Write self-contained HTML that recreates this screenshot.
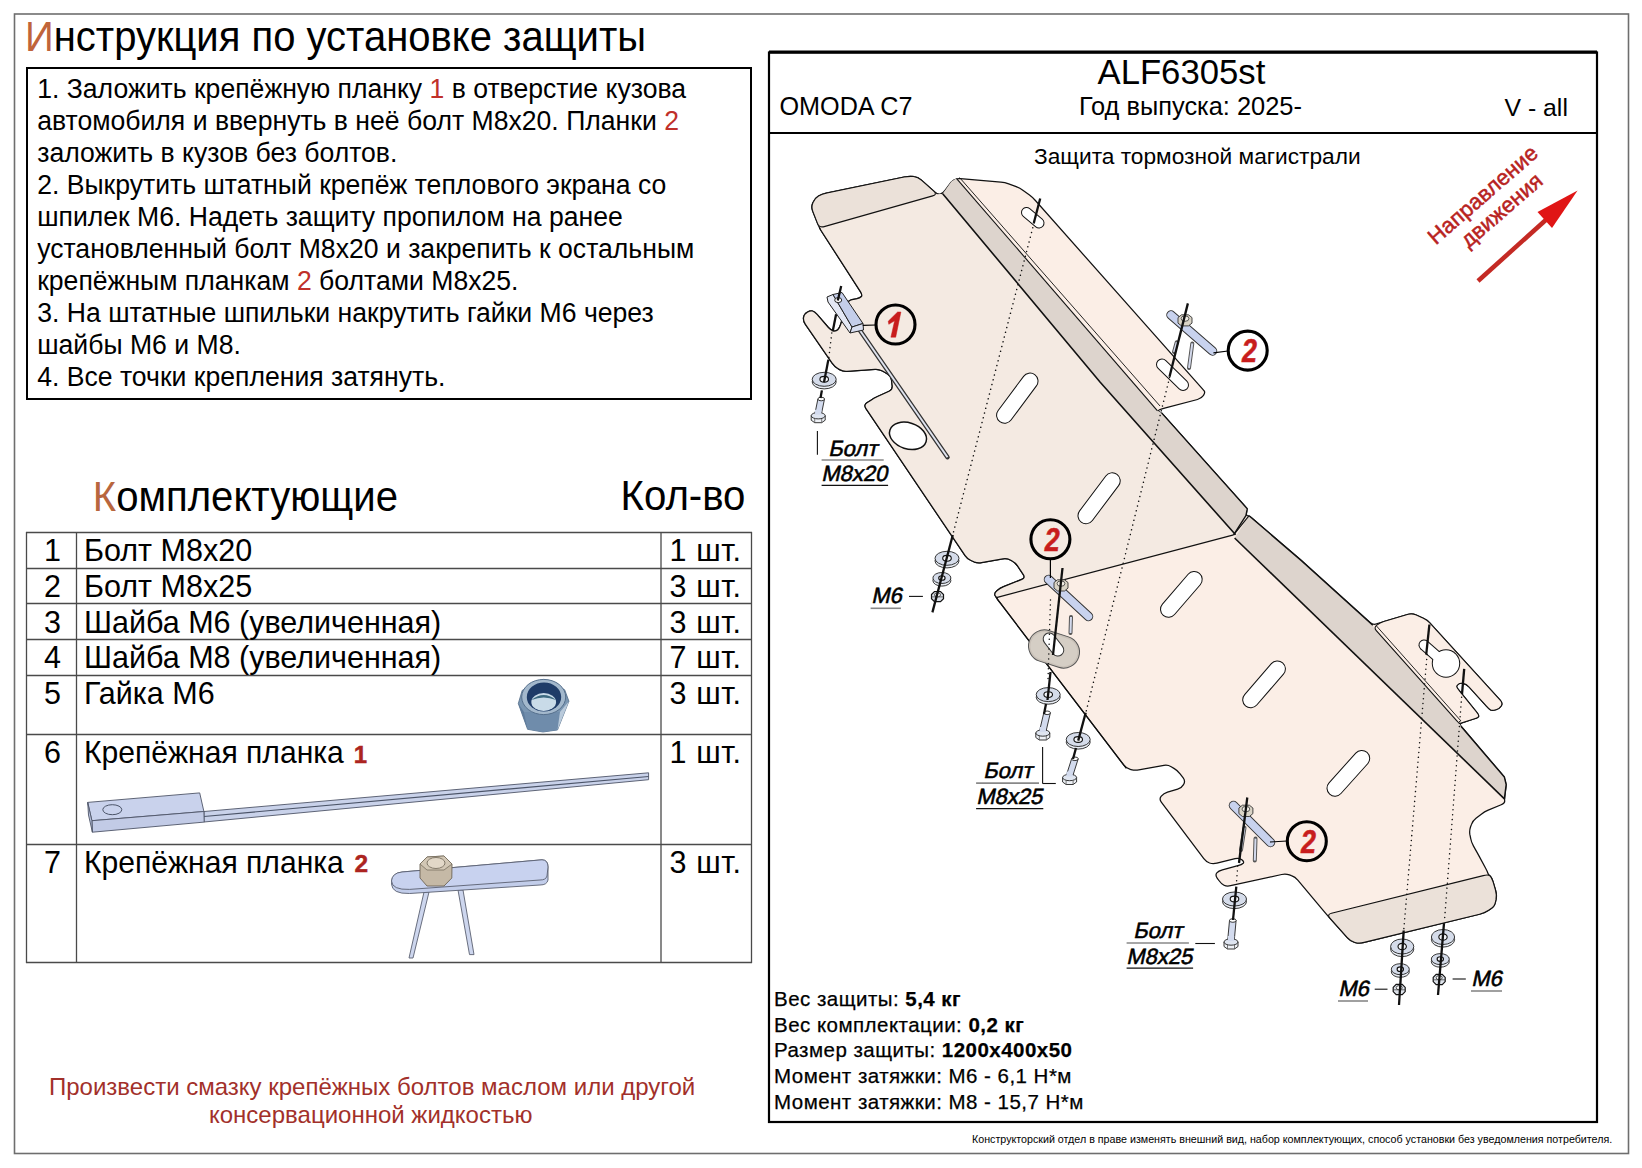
<!DOCTYPE html>
<html><head><meta charset="utf-8"><style>
html,body{margin:0;padding:0;background:#fff;}
body{width:1642px;height:1168px;position:relative;overflow:hidden;font-family:"Liberation Sans",sans-serif;}
.t{position:absolute;white-space:nowrap;line-height:1;}
.b{position:absolute;box-sizing:border-box;}
</style></head><body>
<svg width="1642" height="1168" viewBox="0 0 1642 1168" style="position:absolute;left:0;top:0">
<rect x="14.5" y="14" width="1614" height="1139.5" fill="none" stroke="#6e6e6e" stroke-width="1.6"/>
<rect x="27" y="68" width="724" height="331" fill="none" stroke="#000" stroke-width="2"/>
<rect x="769" y="52.5" width="828" height="1069.5" fill="none" stroke="#000" stroke-width="2.2"/>
<line x1="769" y1="52" x2="1597" y2="52" stroke="#000" stroke-width="3"/>
<line x1="769" y1="133" x2="1597" y2="133" stroke="#000" stroke-width="2"/>
<line x1="26" y1="532.5" x2="752" y2="532.5" stroke="#4a4a4a" stroke-width="1.3"/>
<line x1="26" y1="568.5" x2="752" y2="568.5" stroke="#4a4a4a" stroke-width="1.3"/>
<line x1="26" y1="603.5" x2="752" y2="603.5" stroke="#4a4a4a" stroke-width="1.3"/>
<line x1="26" y1="639.5" x2="752" y2="639.5" stroke="#4a4a4a" stroke-width="1.3"/>
<line x1="26" y1="675.5" x2="752" y2="675.5" stroke="#4a4a4a" stroke-width="1.3"/>
<line x1="26" y1="734.5" x2="752" y2="734.5" stroke="#4a4a4a" stroke-width="1.3"/>
<line x1="26" y1="844.5" x2="752" y2="844.5" stroke="#4a4a4a" stroke-width="1.3"/>
<line x1="26" y1="962.5" x2="752" y2="962.5" stroke="#4a4a4a" stroke-width="1.3"/>
<line x1="26.5" y1="532" x2="26.5" y2="963" stroke="#4a4a4a" stroke-width="1.3"/>
<line x1="76.5" y1="532" x2="76.5" y2="963" stroke="#4a4a4a" stroke-width="1.3"/>
<line x1="661.0" y1="532" x2="661.0" y2="963" stroke="#4a4a4a" stroke-width="1.3"/>
<line x1="751.5" y1="532" x2="751.5" y2="963" stroke="#4a4a4a" stroke-width="1.3"/>
<g>
      <polygon points="518.3,703.5 522.2,690.4 543.7,679.5 564.7,689.8 568.9,701.2 557.5,729.9 543,732 527.6,729.3" fill="#7a96b2" stroke="#4f6985" stroke-width="0.8"/>
      <polygon points="527.6,729.3 524,712 560,712 557.5,729.9 543,732" fill="#6f8cab"/>
      <polygon points="560,712 568.9,701.2 557.5,729.9" fill="#b9cadb"/>
      <polygon points="518.3,703.5 524,712 527.6,729.3" fill="#5f7c9c"/>
      <ellipse cx="543.7" cy="697" rx="22" ry="17.6" fill="#a3b8cc" stroke="#56708d" stroke-width="1"/>
      <ellipse cx="544" cy="697" rx="17.2" ry="14.5" fill="#1f3c68"/>
      <ellipse cx="543.7" cy="702" rx="12.4" ry="9" fill="#c9dbe8"/>
      <path d="M531.5,700 Q543.7,690 556,700 Q543.7,695 531.5,700 Z" fill="#3d6a80"/>
    </g>
<g stroke="#4e5568" stroke-width="0.9">
      <polygon points="204,811.5 648.6,772.8 648.6,779.7 204,822" fill="#c9d2ea"/>
      <line x1="204" y1="816.5" x2="648.6" y2="776.5" stroke="#4b5468" stroke-width="1.2"/>
      <polygon points="87.7,802.4 199.7,792.9 203.9,811.5 91.9,820.7" fill="#c9d2ec"/>
      <polygon points="91.9,820.7 203.9,811.5 204.2,822.1 92.4,832.2" fill="#c2cbe6"/>
      <polygon points="87.7,802.4 91.9,820.7 92.4,832.2 88.5,815" fill="#b8c2de"/>
      <ellipse cx="112.3" cy="809.7" rx="9.5" ry="5" fill="none" stroke="#4b5468" stroke-width="1"/>
    </g>
<g stroke="#5a6070" stroke-width="0.9">
      <polygon points="424,892 429,892 413,958 409,958" fill="#cdd6ee"/>
      <polygon points="458,890 463,890 474,954.6 469.5,954.6" fill="#cdd6ee"/>
      <path d="M402,872 L542,859.8 Q548,860 548,867 L548,880 Q547,885 540,885 L409.6,893.5 Q392,894 391.5,884 L391.5,882 Q392,873 402,872 Z" fill="#c2cdea"/>
      <path d="M402,872 L542,859.8 Q548,860 548,867 L547,876 Q546,880 540,880 L409.6,889.4 Q392,890 391.5,881 Q392,873 402,872 Z" fill="#c8d2ef"/>
      <polygon points="420,864 427,857 444,856 452,864 451.8,878 444,886 427,886 420,878" fill="#c5b9a6" stroke="#6d6455"/>
      <polygon points="420,864 427,857 444,856 452,864 444,870 427,870" fill="#d2c7b5" stroke="#6d6455" stroke-width="0.7"/>
      <ellipse cx="436" cy="863" rx="9" ry="5.5" fill="#e2d8c8" stroke="#6d6455" stroke-width="0.8"/>
    </g>
<line x1="1478" y1="281" x2="1548" y2="218" stroke="#c42a24" stroke-width="4.5"/>
<polygon points="1577.6,190.4 1537.5,212 1552,228" fill="#e01515"/>
<g transform="translate(1435.7,245.5) rotate(-41)"><text x="0" y="0" font-family="Liberation Sans" font-size="22" fill="#b8231f" stroke="#b8231f" stroke-width="0.5">Направление</text></g>
<g transform="translate(1468.6,248.6) rotate(-41)"><text x="0" y="0" font-family="Liberation Sans" font-size="22" fill="#b8231f" stroke="#b8231f" stroke-width="0.5">движения</text></g>
<path d="M812.5,210.7 Q811.0,207.0 812.6,203.3 L813.4,201.7 Q815.0,198.0 818.5,196.0 L818.5,196.0 Q822.0,194.0 825.9,193.2 L905.1,176.8 Q909.0,176.0 913.0,176.4 L914.0,176.6 Q918.0,177.0 921.0,179.7 L934.5,191.8 Q937.5,194.5 940.1,194.1 L940.1,194.1 Q942.7,193.7 945.0,190.4 L948.9,185.0 Q951.2,181.7 953.8,180.0 L953.8,180.0 Q956.4,178.3 960.4,178.6 L1000.9,182.2 Q1004.9,182.5 1008.7,183.9 L1016.2,186.6 Q1020.0,188.0 1023.2,190.4 L1029.5,195.1 Q1032.7,197.5 1035.4,200.5 L1200.0,386.2 Q1202.7,389.2 1204.1,390.8 L1204.1,390.8 Q1205.5,392.3 1203.5,395.4 L1203.5,395.4 Q1201.4,398.5 1197.5,399.5 L1165.5,407.8 Q1161.6,408.8 1159.5,409.8 L1159.5,409.8 Q1157.5,410.8 1159.5,411.9 L1159.5,411.9 Q1161.6,412.9 1164.3,415.9 L1244.6,505.8 Q1247.3,508.8 1246.6,512.2 L1246.6,512.2 Q1245.9,515.6 1247.5,515.7 L1247.5,515.7 Q1249.1,515.7 1252.1,518.3 L1298.7,558.3 Q1301.7,560.9 1304.7,563.6 L1369.8,622.4 Q1372.8,625.1 1376.4,623.9 L1376.4,623.9 Q1380.0,622.6 1383.8,621.5 L1408.2,614.3 Q1412.0,613.2 1415.7,614.8 L1423.4,618.2 Q1427.1,619.8 1429.8,622.8 L1500.2,700.1 Q1502.9,703.1 1501.4,705.8 L1501.4,705.8 Q1499.9,708.5 1496.1,709.7 L1495.9,709.7 Q1492.1,710.9 1490.6,710.0 L1490.6,710.0 Q1489.1,709.1 1486.4,706.1 L1469.1,687.0 Q1466.4,684.0 1463.1,683.4 L1463.1,683.4 Q1459.8,682.8 1458.2,684.3 L1458.2,684.3 Q1456.5,685.8 1456.7,686.7 L1456.7,686.7 Q1456.8,687.6 1459.3,690.7 L1476.5,712.0 Q1479.0,715.1 1478.7,716.3 L1478.7,716.3 Q1478.4,717.5 1474.6,718.7 L1463.6,722.3 Q1459.8,723.5 1460.4,724.9 L1460.4,724.9 Q1461.0,726.2 1463.6,729.2 L1501.8,774.1 Q1504.4,777.1 1505.3,780.9 L1505.3,780.9 Q1506.2,784.7 1505.7,788.7 L1504.9,794.8 Q1504.4,798.8 1504.7,801.0 L1504.7,801.0 Q1504.9,803.1 1501.2,804.7 L1488.2,810.2 Q1484.5,811.8 1481.3,814.2 L1476.0,818.2 Q1472.8,820.6 1471.5,824.4 L1470.5,827.0 Q1469.2,830.8 1469.9,834.7 L1470.7,838.5 Q1471.4,842.4 1473.4,845.9 L1475.2,849.1 Q1477.2,852.6 1479.1,856.1 L1485.5,868.0 Q1487.4,871.5 1487.8,873.0 L1487.8,873.0 Q1488.1,874.4 1489.9,875.8 L1489.9,875.8 Q1491.8,877.3 1492.9,881.1 L1495.8,891.0 Q1496.9,894.8 1496.2,898.7 L1495.4,902.5 Q1494.7,906.4 1491.3,908.6 L1487.9,910.8 Q1484.5,913.0 1480.6,913.9 L1363.2,942.7 Q1359.3,943.6 1355.4,942.6 L1354.5,942.4 Q1350.6,941.4 1347.9,938.4 L1329.3,917.5 Q1326.6,914.5 1324.0,911.4 L1297.8,880.1 Q1295.2,877.0 1291.4,875.7 L1289.4,874.9 Q1285.6,873.6 1281.7,874.5 L1230.6,885.7 Q1226.7,886.6 1224.0,885.2 L1224.0,885.2 Q1221.2,883.8 1218.9,880.5 L1217.3,878.3 Q1215.0,875.0 1216.8,872.9 L1216.8,872.9 Q1218.5,870.8 1222.4,869.8 L1237.9,865.7 Q1241.8,864.7 1243.2,863.3 L1243.2,863.3 Q1244.5,861.9 1241.8,859.8 L1241.8,859.8 Q1239.0,857.8 1235.1,858.7 L1216.9,863.1 Q1213.0,864.0 1209.6,863.0 L1209.6,863.0 Q1206.2,861.9 1203.8,858.7 L1161.3,802.1 Q1158.9,798.9 1161.3,796.1 L1161.3,796.1 Q1163.7,793.4 1167.5,792.2 L1177.7,789.2 Q1181.5,788.0 1183.5,784.6 L1183.6,784.5 Q1185.6,781.1 1183.2,777.9 L1180.1,773.8 Q1177.7,770.6 1174.3,768.6 L1171.2,766.7 Q1167.8,764.7 1163.9,765.4 L1138.8,769.9 Q1134.9,770.6 1131.0,769.6 L1130.2,769.4 Q1126.3,768.4 1123.9,765.2 L1000.4,603.2 Q998.0,600.0 997.2,598.8 L997.2,598.8 Q996.4,597.6 995.1,595.5 L995.1,595.5 Q993.9,593.3 996.9,590.8 L996.9,590.8 Q999.9,588.2 1003.6,586.7 L1021.8,579.4 Q1025.5,577.9 1023.3,574.6 L1017.5,565.8 Q1015.3,562.5 1011.7,560.7 L1010.3,560.0 Q1006.7,558.2 1002.8,558.9 L981.5,562.6 Q977.6,563.3 973.9,561.8 L971.0,560.5 Q967.3,559.0 965.1,555.7 L865.8,408.3 Q863.6,405.0 866.9,402.8 L870.6,400.4 Q873.9,398.2 877.5,396.5 L889.1,391.3 Q892.7,389.6 892.2,385.6 L891.5,380.0 Q891.0,376.0 887.5,374.0 L882.5,371.0 Q879.0,369.0 875.0,369.3 L847.0,371.3 Q843.0,371.6 839.6,369.6 L837.8,368.5 Q834.4,366.5 832.1,363.2 L805.4,324.4 Q803.1,321.1 803.5,317.6 L803.5,317.6 Q804.0,314.0 807.2,312.2 L807.2,312.2 Q810.4,310.4 812.5,311.0 L812.5,311.0 Q814.7,311.7 817.3,314.7 L828.4,327.5 Q831.0,330.5 833.5,330.9 L833.5,330.9 Q836.1,331.4 837.8,329.7 L837.8,329.7 Q839.5,328.0 840.7,324.2 L846.9,304.3 Q848.1,300.5 852.0,299.7 L856.2,298.8 Q860.1,298.0 861.4,296.5 L861.4,296.5 Q862.6,295.0 860.4,291.6 L821.6,231.4 Q819.4,228.0 817.9,224.3 Z" fill="#fbeee6" stroke="#111" stroke-width="1.25" stroke-linejoin="round"/>
<path d="M933.7,195.6 Q937.5,194.5 940.1,194.1 L940.1,194.1 Q942.7,193.7 945.3,196.8 L1097.4,378.9 Q1100.0,382.0 1102.7,385.0 L1232.9,531.8 Q1235.6,534.8 1234.6,534.8 L1234.6,534.8 Q1233.6,534.8 1229.7,535.8 L1000.3,596.6 Q996.4,597.6 995.1,595.5 L995.1,595.5 Q993.9,593.3 996.9,590.8 L996.9,590.8 Q999.9,588.2 1003.6,586.7 L1021.8,579.4 Q1025.5,577.9 1023.3,574.6 L1017.5,565.8 Q1015.3,562.5 1011.7,560.7 L1010.3,560.0 Q1006.7,558.2 1002.8,558.9 L981.5,562.6 Q977.6,563.3 973.9,561.8 L971.0,560.5 Q967.3,559.0 965.1,555.7 L865.8,408.3 Q863.6,405.0 866.9,402.8 L870.6,400.4 Q873.9,398.2 877.5,396.5 L889.1,391.3 Q892.7,389.6 892.2,385.6 L891.5,380.0 Q891.0,376.0 887.5,374.0 L882.5,371.0 Q879.0,369.0 875.0,369.3 L847.0,371.3 Q843.0,371.6 839.6,369.6 L837.8,368.5 Q834.4,366.5 832.1,363.2 L805.4,324.4 Q803.1,321.1 803.5,317.6 L803.5,317.6 Q804.0,314.0 807.2,312.2 L807.2,312.2 Q810.4,310.4 812.5,311.0 L812.5,311.0 Q814.7,311.7 817.3,314.7 L828.4,327.5 Q831.0,330.5 833.5,330.9 L833.5,330.9 Q836.1,331.4 837.8,329.7 L837.8,329.7 Q839.5,328.0 840.7,324.2 L846.9,304.3 Q848.1,300.5 852.0,299.7 L856.2,298.8 Q860.1,298.0 861.4,296.5 L861.4,296.5 Q862.6,295.0 860.4,291.6 L821.6,231.4 Q819.4,228.0 823.2,226.9 Z" fill="#f4eae2" stroke="none"/>
<path d="M1126.3,768.4 L1000.4,603.2 Q998.0,600.0 997.2,598.8 L997.2,598.8 Q996.4,597.6 995.1,595.5 L995.1,595.5 Q993.9,593.3 996.9,590.8 L996.9,590.8 Q999.9,588.2 1003.6,586.7 L1021.8,579.4 Q1025.5,577.9 1023.3,574.6 L1017.5,565.8 Q1015.3,562.5 1011.7,560.7 L1010.3,560.0 Q1006.7,558.2 1002.8,558.9 L981.5,562.6 Q977.6,563.3 973.9,561.8 L971.0,560.5 Q967.3,559.0 965.1,555.7 L865.8,408.3 Q863.6,405.0 866.9,402.8 L870.6,400.4 Q873.9,398.2 877.5,396.5 L889.1,391.3 Q892.7,389.6 892.2,385.6 L891.5,380.0 Q891.0,376.0 887.5,374.0 L882.5,371.0 Q879.0,369.0 875.0,369.3 L847.0,371.3 Q843.0,371.6 839.6,369.6 L837.8,368.5 Q834.4,366.5 832.1,363.2 L805.4,324.4 Q803.1,321.1 803.5,317.6 L803.5,317.6 Q804.0,314.0 807.2,312.2 L807.2,312.2 Q810.4,310.4 812.5,311.0 L812.5,311.0 Q814.7,311.7 817.3,314.7 L828.4,327.5 Q831.0,330.5 833.5,330.9 L833.5,330.9 Q836.1,331.4 837.8,329.7 L837.8,329.7 Q839.5,328.0 840.7,324.2 L846.9,304.3 Q848.1,300.5 852.0,299.7 L856.2,298.8 Q860.1,298.0 861.4,296.5 L861.4,296.5 Q862.6,295.0 860.4,291.6 L819.4,228.0" fill="none" stroke="#111" stroke-width="1.25" stroke-linejoin="round"/>
<path d="M812.9,211.6 Q811.0,207.0 813.0,202.5 L813.0,202.5 Q815.0,198.0 818.5,196.0 L818.5,196.0 Q822.0,194.0 826.9,193.0 L904.1,177.0 Q909.0,176.0 913.5,176.5 L913.5,176.5 Q918.0,177.0 921.7,180.3 L933.8,191.2 Q937.5,194.5 932.7,195.9 L824.2,226.6 Q819.4,228.0 817.5,223.4 Z" fill="#ebe1d9" stroke="#111" stroke-width="1.1" stroke-linejoin="round"/>
<polygon points="1100.0,382.0 942.7,193.7 951.2,181.7 956.4,178.3 1157.5,410.8 1161.6,412.9 1247.3,508.8 1245.9,515.6 1233.6,534.8 1235.6,534.8" fill="#ddd4cd" stroke="none"/>
<polyline points="942.7,193.7 1100.0,382.0 1235.6,534.8" fill="none" stroke="#111" stroke-width="1.6"/>
<polyline points="956.4,178.3 1157.5,410.8" fill="none" stroke="#111" stroke-width="1.1"/>
<polyline points="959.5,177.5 1160.0,406.0" fill="none" stroke="#111" stroke-width="0.9"/>
<polyline points="1161.6,412.9 1247.3,508.8 1245.9,515.6 1233.6,534.8" fill="none" stroke="#111" stroke-width="1.4" stroke-linejoin="round"/>
<polygon points="1249.1,515.7 1301.7,560.9 1372.8,625.1 1373.6,627.6 1459.1,723.4 1461.0,726.2 1504.4,777.1 1506.2,784.7 1504.4,798.8 1234.6,538.0" fill="#ddd4cd" stroke="none"/>
<polyline points="1234.6,538.0 1504.4,798.8" fill="none" stroke="#111" stroke-width="1.6"/>
<polyline points="1249.1,515.7 1301.7,560.9 1372.8,625.1" fill="none" stroke="#111" stroke-width="1.5"/>
<polyline points="1461.0,726.2 1504.4,777.1 1506.2,784.7 1504.4,798.8" fill="none" stroke="#111" stroke-width="1.5" stroke-linejoin="round"/>
<polyline points="1249.1,515.7 1233.6,534.8" fill="none" stroke="#111" stroke-width="1.2"/>
<polyline points="996.4,597.6 1233.6,534.8" fill="none" stroke="#111" stroke-width="1.2"/>
<path d="M1376.3,630.6 Q1373.6,627.6 1376.8,625.1 L1376.8,625.1 Q1380.0,622.6 1383.8,621.5 L1408.2,614.3 Q1412.0,613.2 1415.7,614.8 L1423.4,618.2 Q1427.1,619.8 1429.8,622.8 L1500.2,700.1 Q1502.9,703.1 1501.4,705.8 L1501.4,705.8 Q1499.9,708.5 1496.1,709.7 L1495.9,709.7 Q1492.1,710.9 1490.6,710.0 L1490.6,710.0 Q1489.1,709.1 1486.4,706.1 L1469.1,687.0 Q1466.4,684.0 1463.1,683.4 L1463.1,683.4 Q1459.8,682.8 1458.2,684.3 L1458.2,684.3 Q1456.5,685.8 1456.7,686.7 L1456.7,686.7 Q1456.8,687.6 1459.3,690.7 L1476.5,712.0 Q1479.0,715.1 1478.7,716.3 L1478.7,716.3 Q1478.4,717.5 1474.6,718.7 L1463.6,722.3 Q1459.8,723.5 1459.4,723.5 L1459.4,723.5 Q1459.1,723.4 1456.4,720.4 Z" fill="#fbeee6" stroke="#111" stroke-width="1.1" stroke-linejoin="round"/>
<polyline points="1376.5,626.0 1461.0,721.0" fill="none" stroke="#111" stroke-width="0.9"/>
<path d="M1329.9,918.2 Q1326.6,914.5 1331.5,913.3 L1483.2,875.6 Q1488.1,874.4 1489.9,875.8 L1489.9,875.8 Q1491.8,877.3 1493.2,882.1 L1495.5,890.0 Q1496.9,894.8 1496.0,899.7 L1495.6,901.5 Q1494.7,906.4 1490.5,909.1 L1488.7,910.3 Q1484.5,913.0 1479.6,914.2 L1364.2,942.4 Q1359.3,943.6 1354.9,942.5 L1354.9,942.5 Q1350.6,941.4 1347.3,937.7 Z" fill="#ebe1d9" stroke="#111" stroke-width="1.15" stroke-linejoin="round"/>
<line x1="1026.5" y1="212.5" x2="1039" y2="223" stroke="#111" stroke-width="11" stroke-linecap="round"/><line x1="1026.5" y1="212.5" x2="1039" y2="223" stroke="#fff" stroke-width="9" stroke-linecap="round"/>
<line x1="1162" y1="364.5" x2="1183" y2="385" stroke="#111" stroke-width="12" stroke-linecap="round"/><line x1="1162" y1="364.5" x2="1183" y2="385" stroke="#fff" stroke-width="10" stroke-linecap="round"/>
<line x1="1004.6" y1="415.3" x2="1030" y2="381.1" stroke="#111" stroke-width="17" stroke-linecap="round"/><line x1="1004.6" y1="415.3" x2="1030" y2="381.1" stroke="#fff" stroke-width="15" stroke-linecap="round"/>
<line x1="1086" y1="515.7" x2="1112.2" y2="480.8" stroke="#111" stroke-width="17" stroke-linecap="round"/><line x1="1086" y1="515.7" x2="1112.2" y2="480.8" stroke="#fff" stroke-width="15" stroke-linecap="round"/>
<line x1="1168.5" y1="609.3" x2="1194.2" y2="579.5" stroke="#111" stroke-width="17" stroke-linecap="round"/><line x1="1168.5" y1="609.3" x2="1194.2" y2="579.5" stroke="#fff" stroke-width="15" stroke-linecap="round"/>
<line x1="1250.7" y1="699.8" x2="1277.4" y2="668.9" stroke="#111" stroke-width="17" stroke-linecap="round"/><line x1="1250.7" y1="699.8" x2="1277.4" y2="668.9" stroke="#fff" stroke-width="15" stroke-linecap="round"/>
<line x1="1335" y1="788.2" x2="1361.7" y2="758.4" stroke="#111" stroke-width="17" stroke-linecap="round"/><line x1="1335" y1="788.2" x2="1361.7" y2="758.4" stroke="#fff" stroke-width="15" stroke-linecap="round"/>
<line x1="1424" y1="645" x2="1440" y2="659" stroke="#111" stroke-width="11" stroke-linecap="round"/>
<circle cx="1446" cy="663.5" r="14.2" fill="#111"/>
<line x1="1424" y1="645" x2="1440" y2="659" stroke="#fff" stroke-width="9" stroke-linecap="round"/>
<circle cx="1446" cy="663.5" r="13.2" fill="#fff"/>
<ellipse cx="908" cy="435.8" rx="19" ry="13" transform="rotate(18 908 435.8)" fill="#fff" stroke="#111" stroke-width="1.5"/>
<g transform="translate(1054,649) rotate(18)"><rect x="-26" y="-16" width="52" height="32" rx="16" fill="#c9c1b8" stroke="#555" stroke-width="1"/><rect x="-24" y="-14" width="48" height="28" rx="14" fill="#d5cec5" stroke="none"/></g>
<g transform="translate(1053.5,644.5) rotate(52)"><rect x="-13" y="-6" width="26" height="12" rx="6" fill="#fff" stroke="#333" stroke-width="1"/></g>
<line x1="855" y1="323.2" x2="947.5" y2="457.2" stroke="#333" stroke-width="4.5" stroke-linecap="round"/>
<line x1="855" y1="323.2" x2="947.5" y2="457.2" stroke="#dfe3ee" stroke-width="2"/>
<polygon points="827.0,297.0 833.0,294.5 852.0,327.0 850.0,333.0 828.0,302.0" fill="#e4e8f4" stroke="#222" stroke-width="1"/>
<polygon points="833.0,294.5 842.0,292.5 863.0,323.5 852.0,327.0" fill="#c4ceea" stroke="#222" stroke-width="1"/>
<polygon points="852.0,327.0 863.0,323.5 863.5,330.0 850.0,333.0" fill="#d8def0" stroke="#222" stroke-width="1"/>
<ellipse cx="838.2" cy="300.1" rx="3.5" ry="2.5" fill="#fff" stroke="#222" stroke-width="1"/>
<line x1="1034" y1="223" x2="953" y2="534" stroke="#111" stroke-width="1.5" stroke-dasharray="0.01,4.9" stroke-linecap="round"/>
<line x1="1169.6" y1="377.4" x2="1086" y2="712" stroke="#111" stroke-width="1.5" stroke-dasharray="0.01,4.9" stroke-linecap="round"/>
<line x1="1427.1" y1="654.6" x2="1403.7" y2="930.5" stroke="#111" stroke-width="1.5" stroke-dasharray="0.01,4.9" stroke-linecap="round"/>
<line x1="1462" y1="692.3" x2="1444.5" y2="920.3" stroke="#111" stroke-width="1.5" stroke-dasharray="0.01,4.9" stroke-linecap="round"/>
<line x1="1237.7" y1="866" x2="1236.3" y2="885" stroke="#111" stroke-width="1.5" stroke-dasharray="0.01,4.9" stroke-linecap="round"/>
<line x1="831.8" y1="333" x2="828.8" y2="358" stroke="#111" stroke-width="1.5" stroke-dasharray="0.01,4.9" stroke-linecap="round"/>
<line x1="1050.5" y1="600" x2="1048" y2="680" stroke="#111" stroke-width="1.5" stroke-dasharray="0.01,4.9" stroke-linecap="round"/>
<ellipse cx="824.2" cy="381.90000000000003" rx="12" ry="7" fill="#e9edf4" stroke="#222" stroke-width="0.9"/><ellipse cx="824.2" cy="379.3" rx="12" ry="7" fill="#d5dcea" stroke="#222" stroke-width="0.9"/><ellipse cx="824.2" cy="379.3" rx="4.3" ry="2.9" fill="#f4f6fa" stroke="#111" stroke-width="1.1"/>
<polygon points="817.9,399.0 824.5,399.0 821.5,413.7 814.9,413.7" fill="#d3dbee" stroke="#222" stroke-width="0.9"/><ellipse cx="821.2" cy="399" rx="3.3" ry="1.8" fill="#fff" stroke="#222" stroke-width="0.9"/><polygon points="811.2,415.7 811.2,420.2 814.7,422.7 821.7,422.7 825.2,420.2 825.2,415.7" fill="#eef1f6" stroke="#222" stroke-width="0.9"/><line x1="814.7" y1="418.7" x2="814.7" y2="422.7" stroke="#444" stroke-width="0.7"/><line x1="821.7" y1="418.7" x2="821.7" y2="422.7" stroke="#444" stroke-width="0.7"/><ellipse cx="818.2" cy="415.7" rx="7" ry="3.2" fill="#dfe5f0" stroke="#222" stroke-width="0.9"/><polygon points="814.9,409.7 821.5,409.7 821.2,414.7 815.2,414.7" fill="#d3dbee" stroke="none"/>
<ellipse cx="947" cy="560.9" rx="12" ry="7" fill="#e9edf4" stroke="#222" stroke-width="0.9"/><ellipse cx="947" cy="558.3" rx="12" ry="7" fill="#d5dcea" stroke="#222" stroke-width="0.9"/><ellipse cx="947" cy="558.3" rx="4.3" ry="2.9" fill="#f4f6fa" stroke="#111" stroke-width="1.1"/>
<ellipse cx="941.9" cy="580.6" rx="9" ry="5.5" fill="#e9edf4" stroke="#222" stroke-width="0.9"/><ellipse cx="941.9" cy="578" rx="9" ry="5.5" fill="#d5dcea" stroke="#222" stroke-width="0.9"/><ellipse cx="941.9" cy="578" rx="3.2" ry="2.3" fill="#f4f6fa" stroke="#111" stroke-width="1.1"/>
<polygon points="931.5,594.5 934.5,591.5 940.5,591.5 943.5,594.5 943.5,598.7 940.5,601.7 934.5,601.7 931.5,598.7" fill="#dde2ea" stroke="#111" stroke-width="1.2"/><line x1="931.5" y1="596.9" x2="943.5" y2="596.9" stroke="#333" stroke-width="0.7"/><ellipse cx="937.5" cy="594.8" rx="3.0" ry="2.1" fill="#fff" stroke="#222" stroke-width="0.8"/>
<ellipse cx="1048.2" cy="697.2" rx="12" ry="7" fill="#e9edf4" stroke="#222" stroke-width="0.9"/><ellipse cx="1048.2" cy="694.6" rx="12" ry="7" fill="#d5dcea" stroke="#222" stroke-width="0.9"/><ellipse cx="1048.2" cy="694.6" rx="4.3" ry="2.9" fill="#f4f6fa" stroke="#111" stroke-width="1.1"/>
<polygon points="1043.8,712.8 1050.4,712.8 1046.1,731.0 1039.5,731.0" fill="#d3dbee" stroke="#222" stroke-width="0.9"/><ellipse cx="1047.1" cy="712.8" rx="3.3" ry="1.8" fill="#fff" stroke="#222" stroke-width="0.9"/><polygon points="1035.8,733.0 1035.8,737.5 1039.3,740.0 1046.3,740.0 1049.8,737.5 1049.8,733.0" fill="#eef1f6" stroke="#222" stroke-width="0.9"/><line x1="1039.3" y1="736" x2="1039.3" y2="740" stroke="#444" stroke-width="0.7"/><line x1="1046.3" y1="736" x2="1046.3" y2="740" stroke="#444" stroke-width="0.7"/><ellipse cx="1042.8" cy="733" rx="7" ry="3.2" fill="#dfe5f0" stroke="#222" stroke-width="0.9"/><polygon points="1039.5,727.0 1046.1,727.0 1045.8,732.0 1039.8,732.0" fill="#d3dbee" stroke="none"/>
<ellipse cx="1078.2" cy="742.1" rx="12" ry="7" fill="#e9edf4" stroke="#222" stroke-width="0.9"/><ellipse cx="1078.2" cy="739.5" rx="12" ry="7" fill="#d5dcea" stroke="#222" stroke-width="0.9"/><ellipse cx="1078.2" cy="739.5" rx="4.3" ry="2.9" fill="#f4f6fa" stroke="#111" stroke-width="1.1"/>
<polygon points="1071.6,758.8 1078.2,758.8 1072.9,775.5 1066.3,775.5" fill="#d3dbee" stroke="#222" stroke-width="0.9"/><ellipse cx="1074.9" cy="758.8" rx="3.3" ry="1.8" fill="#fff" stroke="#222" stroke-width="0.9"/><polygon points="1062.6,777.5 1062.6,782.0 1066.1,784.5 1073.1,784.5 1076.6,782.0 1076.6,777.5" fill="#eef1f6" stroke="#222" stroke-width="0.9"/><line x1="1066.1" y1="780.5" x2="1066.1" y2="784.5" stroke="#444" stroke-width="0.7"/><line x1="1073.1" y1="780.5" x2="1073.1" y2="784.5" stroke="#444" stroke-width="0.7"/><ellipse cx="1069.6" cy="777.5" rx="7" ry="3.2" fill="#dfe5f0" stroke="#222" stroke-width="0.9"/><polygon points="1066.3,771.5 1072.9,771.5 1072.6,776.5 1066.6,776.5" fill="#d3dbee" stroke="none"/>
<ellipse cx="1234.5" cy="901.6" rx="12" ry="7" fill="#e9edf4" stroke="#222" stroke-width="0.9"/><ellipse cx="1234.5" cy="899" rx="12" ry="7" fill="#d5dcea" stroke="#222" stroke-width="0.9"/><ellipse cx="1234.5" cy="899" rx="4.3" ry="2.9" fill="#f4f6fa" stroke="#111" stroke-width="1.1"/>
<polygon points="1229.5,920.5 1236.1,920.5 1234.3,940.0 1227.7,940.0" fill="#d3dbee" stroke="#222" stroke-width="0.9"/><ellipse cx="1232.8" cy="920.5" rx="3.3" ry="1.8" fill="#fff" stroke="#222" stroke-width="0.9"/><polygon points="1224.0,942.0 1224.0,946.5 1227.5,949.0 1234.5,949.0 1238.0,946.5 1238.0,942.0" fill="#eef1f6" stroke="#222" stroke-width="0.9"/><line x1="1227.5" y1="945" x2="1227.5" y2="949" stroke="#444" stroke-width="0.7"/><line x1="1234.5" y1="945" x2="1234.5" y2="949" stroke="#444" stroke-width="0.7"/><ellipse cx="1231" cy="942" rx="7" ry="3.2" fill="#dfe5f0" stroke="#222" stroke-width="0.9"/><polygon points="1227.7,936.0 1234.3,936.0 1234.0,941.0 1228.0,941.0" fill="#d3dbee" stroke="none"/>
<ellipse cx="1402.2" cy="949.1" rx="11.6" ry="7.5" fill="#e9edf4" stroke="#222" stroke-width="0.9"/><ellipse cx="1402.2" cy="946.5" rx="11.6" ry="7.5" fill="#d5dcea" stroke="#222" stroke-width="0.9"/><ellipse cx="1402.2" cy="946.5" rx="4.2" ry="3.1" fill="#f4f6fa" stroke="#111" stroke-width="1.1"/>
<ellipse cx="1400.3" cy="971.8000000000001" rx="9" ry="5.5" fill="#e9edf4" stroke="#222" stroke-width="0.9"/><ellipse cx="1400.3" cy="969.2" rx="9" ry="5.5" fill="#d5dcea" stroke="#222" stroke-width="0.9"/><ellipse cx="1400.3" cy="969.2" rx="3.2" ry="2.3" fill="#f4f6fa" stroke="#111" stroke-width="1.1"/>
<polygon points="1393.2,987.4 1396.2,984.4 1402.2,984.4 1405.2,987.4 1405.2,991.6 1402.2,994.6 1396.2,994.6 1393.2,991.6" fill="#dde2ea" stroke="#111" stroke-width="1.2"/><line x1="1393.2" y1="989.8" x2="1405.2" y2="989.8" stroke="#333" stroke-width="0.7"/><ellipse cx="1399.2" cy="987.7" rx="3.0" ry="2.1" fill="#fff" stroke="#222" stroke-width="0.8"/>
<ellipse cx="1443" cy="939.6" rx="11.6" ry="7.5" fill="#e9edf4" stroke="#222" stroke-width="0.9"/><ellipse cx="1443" cy="937" rx="11.6" ry="7.5" fill="#d5dcea" stroke="#222" stroke-width="0.9"/><ellipse cx="1443" cy="937" rx="4.2" ry="3.1" fill="#f4f6fa" stroke="#111" stroke-width="1.1"/>
<ellipse cx="1440.3" cy="961.7" rx="9" ry="5.5" fill="#e9edf4" stroke="#222" stroke-width="0.9"/><ellipse cx="1440.3" cy="959.1" rx="9" ry="5.5" fill="#d5dcea" stroke="#222" stroke-width="0.9"/><ellipse cx="1440.3" cy="959.1" rx="3.2" ry="2.3" fill="#f4f6fa" stroke="#111" stroke-width="1.1"/>
<polygon points="1433.2,977.4 1436.2,974.4 1442.2,974.4 1445.2,977.4 1445.2,981.6 1442.2,984.6 1436.2,984.6 1433.2,981.6" fill="#dde2ea" stroke="#111" stroke-width="1.2"/><line x1="1433.2" y1="979.8" x2="1445.2" y2="979.8" stroke="#333" stroke-width="0.7"/><ellipse cx="1439.2" cy="977.7" rx="3.0" ry="2.1" fill="#fff" stroke="#222" stroke-width="0.8"/>
<line x1="1071" y1="617" x2="1070.5" y2="633" stroke="#555" stroke-width="4" stroke-linecap="round"/>
<line x1="1071" y1="617" x2="1070.5" y2="633" stroke="#d3d9ec" stroke-width="2"/>
<line x1="1048.5" y1="579.5" x2="1088.5" y2="616.5" stroke="#333" stroke-width="9.5" stroke-linecap="round"/>
<line x1="1048.5" y1="579.5" x2="1088.5" y2="616.5" stroke="#c8d2ee" stroke-width="7.5" stroke-linecap="round"/>
<polygon points="1054.0,582.5 1057.5,579.8 1064.5,579.8 1068.0,582.5 1068.0,588.1 1064.5,591.0 1057.5,591.0 1054.0,588.1" fill="#d9d3c6" stroke="#333" stroke-width="0.9"/><ellipse cx="1061" cy="583.6" rx="3.9" ry="2.7" fill="#f2eee6" stroke="#333" stroke-width="0.8"/>
<line x1="1192.3" y1="343.4" x2="1189" y2="368" stroke="#555" stroke-width="4" stroke-linecap="round"/>
<line x1="1192.3" y1="343.4" x2="1189" y2="368" stroke="#d3d9ec" stroke-width="2"/>
<line x1="1176.7" y1="342.3" x2="1174" y2="352" stroke="#555" stroke-width="4" stroke-linecap="round"/>
<line x1="1176.7" y1="342.3" x2="1174" y2="352" stroke="#d3d9ec" stroke-width="2"/>
<line x1="1171" y1="315" x2="1212.5" y2="351" stroke="#333" stroke-width="9.5" stroke-linecap="round"/>
<line x1="1171" y1="315" x2="1212.5" y2="351" stroke="#c8d2ee" stroke-width="7.5" stroke-linecap="round"/>
<polygon points="1178.0,317.6 1181.5,314.8 1188.5,314.8 1192.0,317.6 1192.0,323.1 1188.5,325.9 1181.5,325.9 1178.0,323.1" fill="#d9d3c6" stroke="#333" stroke-width="0.9"/><ellipse cx="1185" cy="318.6" rx="3.9" ry="2.7" fill="#f2eee6" stroke="#333" stroke-width="0.8"/>
<line x1="1255.5" y1="838.6" x2="1254.8" y2="860.5" stroke="#555" stroke-width="4" stroke-linecap="round"/>
<line x1="1255.5" y1="838.6" x2="1254.8" y2="860.5" stroke="#d3d9ec" stroke-width="2"/>
<line x1="1244.5" y1="827.7" x2="1241" y2="850" stroke="#555" stroke-width="4" stroke-linecap="round"/>
<line x1="1244.5" y1="827.7" x2="1241" y2="850" stroke="#d3d9ec" stroke-width="2"/>
<line x1="1233.5" y1="805.5" x2="1270.5" y2="842.5" stroke="#333" stroke-width="9.5" stroke-linecap="round"/>
<line x1="1233.5" y1="805.5" x2="1270.5" y2="842.5" stroke="#c8d2ee" stroke-width="7.5" stroke-linecap="round"/>
<polygon points="1238.9,808.0 1242.4,805.2 1249.4,805.2 1252.9,808.0 1252.9,813.6 1249.4,816.5 1242.4,816.5 1238.9,813.6" fill="#d9d3c6" stroke="#333" stroke-width="0.9"/><ellipse cx="1245.9" cy="809.1" rx="3.9" ry="2.7" fill="#f2eee6" stroke="#333" stroke-width="0.8"/>
<line x1="1040.2" y1="198.5" x2="1033.8" y2="223" stroke="#111" stroke-width="2.3"/>
<line x1="1187.9" y1="303.4" x2="1169.5" y2="376.8" stroke="#111" stroke-width="2.3"/>
<line x1="952.8" y1="535" x2="932.4" y2="612.4" stroke="#111" stroke-width="2.3"/>
<line x1="841.2" y1="286" x2="837.8" y2="300.5" stroke="#111" stroke-width="2.3"/>
<line x1="836.1" y1="314.2" x2="832.7" y2="331.4" stroke="#111" stroke-width="2.3"/>
<line x1="828.4" y1="359.6" x2="824" y2="382.2" stroke="#111" stroke-width="2.3"/>
<line x1="821.9" y1="390.4" x2="820.5" y2="398" stroke="#111" stroke-width="2.3"/>
<line x1="1062.5" y1="568" x2="1053" y2="655" stroke="#111" stroke-width="2.3"/>
<line x1="1050.5" y1="672" x2="1047.5" y2="700" stroke="#111" stroke-width="2.3"/>
<line x1="1046" y1="704" x2="1044" y2="714" stroke="#111" stroke-width="2.3"/>
<line x1="1085.7" y1="712.8" x2="1078.2" y2="740.6" stroke="#111" stroke-width="2.3"/>
<line x1="1076" y1="748" x2="1073" y2="759" stroke="#111" stroke-width="2.3"/>
<line x1="1247.3" y1="797.5" x2="1239" y2="863" stroke="#111" stroke-width="2.3"/>
<line x1="1236.3" y1="886.6" x2="1233" y2="920" stroke="#111" stroke-width="2.3"/>
<line x1="1403.7" y1="930.5" x2="1399" y2="1005" stroke="#111" stroke-width="2.3"/>
<line x1="1444" y1="923.2" x2="1438" y2="995" stroke="#111" stroke-width="2.3"/>
<line x1="1429.4" y1="624.5" x2="1426.2" y2="654.6" stroke="#111" stroke-width="2.3"/>
<line x1="1464.2" y1="668.8" x2="1462" y2="694.2" stroke="#111" stroke-width="2.3"/>
<line x1="862.8" y1="325.4" x2="876" y2="325" stroke="#000" stroke-width="1.2"/>
<circle cx="895.5" cy="324.5" r="19.5" fill="none" stroke="#000" stroke-width="3.1"/><polygon points="900.9,312.0 895.7,337.2 890.9,337.2 894.6,320.8 888.8,324.3 888.2,321.3 897.6,312.0" fill="#c81d1d" stroke="#c81d1d" stroke-width="0.5" stroke-linejoin="round"/>
<line x1="1050.4" y1="560" x2="1050.4" y2="578" stroke="#000" stroke-width="1.2"/>
<circle cx="1050.4" cy="539.3" r="19.5" fill="none" stroke="#000" stroke-width="3.1"/><text x="0" y="0" transform="translate(1050.9,551.0999999999999) scale(0.82,1) skewX(-9)" text-anchor="middle" font-family="Liberation Sans" font-weight="bold" font-size="33" fill="#c81d1d" stroke="#c81d1d" stroke-width="0.6">2</text>
<line x1="1213.4" y1="352.8" x2="1228" y2="351" stroke="#000" stroke-width="1.2"/>
<circle cx="1247.7" cy="350.6" r="19.5" fill="none" stroke="#000" stroke-width="3.1"/><text x="0" y="0" transform="translate(1248.2,362.40000000000003) scale(0.82,1) skewX(-9)" text-anchor="middle" font-family="Liberation Sans" font-weight="bold" font-size="33" fill="#c81d1d" stroke="#c81d1d" stroke-width="0.6">2</text>
<line x1="1270" y1="842" x2="1287" y2="841" stroke="#000" stroke-width="1.2"/>
<circle cx="1306.8" cy="841.2" r="19.5" fill="none" stroke="#000" stroke-width="3.1"/><text x="0" y="0" transform="translate(1307.3,853.0) scale(0.82,1) skewX(-9)" text-anchor="middle" font-family="Liberation Sans" font-weight="bold" font-size="33" fill="#c81d1d" stroke="#c81d1d" stroke-width="0.6">2</text>
<line x1="821.6" y1="460" x2="883.7" y2="460" stroke="#888" stroke-width="1.6"/>
<line x1="821.6" y1="485.4" x2="888.1" y2="485.4" stroke="#111" stroke-width="1.3"/>
<line x1="976.1" y1="783.1" x2="1039" y2="783.1" stroke="#888" stroke-width="1.6"/>
<line x1="976.1" y1="808.6" x2="1043.3" y2="808.6" stroke="#111" stroke-width="1.3"/>
<line x1="1126.6" y1="943" x2="1188.9" y2="943" stroke="#888" stroke-width="1.6"/>
<line x1="1126.6" y1="968.2" x2="1193.1" y2="968.2" stroke="#111" stroke-width="1.3"/>
<line x1="870.6" y1="608.3" x2="900.9" y2="608.3" stroke="#888" stroke-width="1.6"/>
<line x1="909" y1="596.4" x2="922.9" y2="596.4" stroke="#111" stroke-width="1.1"/>
<line x1="1338" y1="1001" x2="1368" y2="1001" stroke="#888" stroke-width="1.6"/>
<line x1="1374.7" y1="989.2" x2="1387.5" y2="989.2" stroke="#111" stroke-width="1.1"/>
<line x1="1471" y1="991" x2="1502" y2="991" stroke="#888" stroke-width="1.6"/>
<line x1="1452.6" y1="979" x2="1465.8" y2="979" stroke="#111" stroke-width="1.1"/>
<line x1="1195.3" y1="943.5" x2="1214.9" y2="943.5" stroke="#111" stroke-width="1.1"/>
<line x1="817.4" y1="431" x2="817.4" y2="454.7" stroke="#111" stroke-width="1.1"/>
<line x1="1042.6" y1="747" x2="1042.6" y2="783.5" stroke="#111" stroke-width="1.1"/>
<line x1="1042.6" y1="783.5" x2="1055.8" y2="783.5" stroke="#111" stroke-width="1.1"/>
</svg>
<div class="t" style="left:25.0px;top:17.03px;font-size:40.0px;color:#000;font-weight:normal;letter-spacing:0px;transform:scale(1.0,1.05) skewX(0deg);transform-origin:0 33.87px;"><span style="color:#c0643a">И</span>нструкция по установке защиты</div><div class="t" style="left:37.2px;top:76.23px;font-size:26.6px;color:#000;font-weight:normal;letter-spacing:0px;transform:scale(1.0,1.02) skewX(0deg);transform-origin:0 22.52px;">1. Заложить крепёжную планку <span style="color:#c0302a">1</span> в отверстие кузова</div><div class="t" style="left:37.2px;top:108.23px;font-size:26.6px;color:#000;font-weight:normal;letter-spacing:0px;transform:scale(1.0,1.02) skewX(0deg);transform-origin:0 22.52px;">автомобиля и ввернуть в неё болт М8х20. Планки <span style="color:#c0302a">2</span></div><div class="t" style="left:37.2px;top:140.23px;font-size:26.6px;color:#000;font-weight:normal;letter-spacing:0px;transform:scale(1.0,1.02) skewX(0deg);transform-origin:0 22.52px;">заложить в кузов без болтов.</div><div class="t" style="left:37.2px;top:172.23px;font-size:26.6px;color:#000;font-weight:normal;letter-spacing:0px;transform:scale(1.0,1.02) skewX(0deg);transform-origin:0 22.52px;">2. Выкрутить штатный крепёж теплового экрана со</div><div class="t" style="left:37.2px;top:204.23px;font-size:26.6px;color:#000;font-weight:normal;letter-spacing:0px;transform:scale(1.0,1.02) skewX(0deg);transform-origin:0 22.52px;">шпилек М6. Надеть защиту пропилом на ранее</div><div class="t" style="left:37.2px;top:236.23px;font-size:26.6px;color:#000;font-weight:normal;letter-spacing:0px;transform:scale(1.0,1.02) skewX(0deg);transform-origin:0 22.52px;">установленный болт М8х20 и закрепить к остальным</div><div class="t" style="left:37.2px;top:268.23px;font-size:26.6px;color:#000;font-weight:normal;letter-spacing:0px;transform:scale(1.0,1.02) skewX(0deg);transform-origin:0 22.52px;">крепёжным планкам <span style="color:#c0302a">2</span> болтами М8х25.</div><div class="t" style="left:37.2px;top:300.23px;font-size:26.6px;color:#000;font-weight:normal;letter-spacing:0px;transform:scale(1.0,1.02) skewX(0deg);transform-origin:0 22.52px;">3. На штатные шпильки накрутить гайки М6 через</div><div class="t" style="left:37.2px;top:332.23px;font-size:26.6px;color:#000;font-weight:normal;letter-spacing:0px;transform:scale(1.0,1.02) skewX(0deg);transform-origin:0 22.52px;">шайбы М6 и М8.</div><div class="t" style="left:37.2px;top:364.23px;font-size:26.6px;color:#000;font-weight:normal;letter-spacing:0px;transform:scale(1.0,1.02) skewX(0deg);transform-origin:0 22.52px;">4. Все точки крепления затянуть.</div><div class="t" style="left:92.8px;top:476.85px;font-size:40.1px;color:#000;font-weight:normal;letter-spacing:0px;transform:scale(1.0,1.05) skewX(0deg);transform-origin:0 33.95px;"><span style="color:#b8663e">К</span>омплектующие</div><div class="t" style="left:620.5px;top:476.66px;font-size:40.2px;color:#000;font-weight:normal;letter-spacing:0px;transform:scale(1.0,1.045) skewX(0deg);transform-origin:0 34.04px;">Кол-во</div><div class="t" style="left:44.0px;top:535.28px;font-size:30.5px;color:#000;font-weight:normal;letter-spacing:0px;">1</div><div class="t" style="left:84.0px;top:535.28px;font-size:30.5px;color:#000;font-weight:normal;letter-spacing:0px;">Болт М8х20</div><div class="t" style="left:669.5px;top:535.28px;font-size:30.5px;color:#000;font-weight:normal;letter-spacing:0.6px;">1 шт.</div><div class="t" style="left:44.0px;top:570.78px;font-size:30.5px;color:#000;font-weight:normal;letter-spacing:0px;">2</div><div class="t" style="left:84.0px;top:570.78px;font-size:30.5px;color:#000;font-weight:normal;letter-spacing:0px;">Болт М8х25</div><div class="t" style="left:669.5px;top:570.78px;font-size:30.5px;color:#000;font-weight:normal;letter-spacing:0.6px;">3 шт.</div><div class="t" style="left:44.0px;top:606.68px;font-size:30.5px;color:#000;font-weight:normal;letter-spacing:0px;">3</div><div class="t" style="left:84.0px;top:606.68px;font-size:30.5px;color:#000;font-weight:normal;letter-spacing:0px;">Шайба М6 (увеличенная)</div><div class="t" style="left:669.5px;top:606.68px;font-size:30.5px;color:#000;font-weight:normal;letter-spacing:0.6px;">3 шт.</div><div class="t" style="left:44.0px;top:641.78px;font-size:30.5px;color:#000;font-weight:normal;letter-spacing:0px;">4</div><div class="t" style="left:84.0px;top:641.78px;font-size:30.5px;color:#000;font-weight:normal;letter-spacing:0px;">Шайба М8 (увеличенная)</div><div class="t" style="left:669.5px;top:641.78px;font-size:30.5px;color:#000;font-weight:normal;letter-spacing:0.6px;">7 шт.</div><div class="t" style="left:44.0px;top:677.98px;font-size:30.5px;color:#000;font-weight:normal;letter-spacing:0px;">5</div><div class="t" style="left:84.0px;top:677.98px;font-size:30.5px;color:#000;font-weight:normal;letter-spacing:0px;">Гайка М6</div><div class="t" style="left:669.5px;top:677.98px;font-size:30.5px;color:#000;font-weight:normal;letter-spacing:0.6px;">3 шт.</div><div class="t" style="left:44.0px;top:736.68px;font-size:30.5px;color:#000;font-weight:normal;letter-spacing:0px;">6</div><div class="t" style="left:84.0px;top:736.68px;font-size:30.5px;color:#000;font-weight:normal;letter-spacing:0px;transform:scale(0.986,1.0) skewX(0deg);transform-origin:0 25.82px;">Крепёжная планка</div><div class="t" style="left:669.5px;top:736.68px;font-size:30.5px;color:#000;font-weight:normal;letter-spacing:0.6px;">1 шт.</div><div class="t" style="left:44.0px;top:846.88px;font-size:30.5px;color:#000;font-weight:normal;letter-spacing:0px;">7</div><div class="t" style="left:84.0px;top:846.88px;font-size:30.5px;color:#000;font-weight:normal;letter-spacing:0px;transform:scale(0.986,1.0) skewX(0deg);transform-origin:0 25.82px;">Крепёжная планка</div><div class="t" style="left:669.5px;top:846.88px;font-size:30.5px;color:#000;font-weight:normal;letter-spacing:0.6px;">3 шт.</div><div class="t" style="left:353.8px;top:743.08px;font-size:24px;color:#ac2420;font-weight:bold;letter-spacing:0px;-webkit-text-stroke:0.4px #ac2420;">1</div><div class="t" style="left:354.5px;top:852.16px;font-size:24.5px;color:#ac2420;font-weight:bold;letter-spacing:0px;-webkit-text-stroke:0.4px #ac2420;">2</div><div class="t" style="left:49.0px;top:1075.18px;font-size:24px;color:#a2302a;font-weight:normal;letter-spacing:0px;">Произвести смазку крепёжных болтов маслом или другой</div><div class="t" style="left:209.0px;top:1102.68px;font-size:24px;color:#a2302a;font-weight:normal;letter-spacing:0px;">консервационной жидкостью</div><div class="t" style="left:1097.5px;top:54.62px;font-size:34.7px;color:#000;font-weight:normal;letter-spacing:0px;">ALF6305st</div><div class="t" style="left:779.5px;top:94.36px;font-size:25.2px;color:#000;font-weight:normal;letter-spacing:0px;">OMODA C7</div><div class="t" style="left:1079.0px;top:94.19px;font-size:25.4px;color:#000;font-weight:normal;letter-spacing:0px;">Год выпуска: 2025-</div><div class="t" style="left:1504.5px;top:95.50px;font-size:24.8px;color:#000;font-weight:normal;letter-spacing:0px;">V - all</div><div class="t" style="left:1034.0px;top:144.78px;font-size:22.7px;color:#000;font-weight:normal;letter-spacing:0px;">Защита тормозной магистрали</div><div class="t" style="left:774.0px;top:989.04px;font-size:20.5px;color:#000;font-weight:normal;letter-spacing:0.47px;-webkit-text-stroke:0.25px #000;">Вес защиты: <b>5,4 кг</b></div><div class="t" style="left:774.0px;top:1015.44px;font-size:20.5px;color:#000;font-weight:normal;letter-spacing:0.47px;-webkit-text-stroke:0.25px #000;">Вес комплектации: <b>0,2 кг</b></div><div class="t" style="left:774.0px;top:1040.24px;font-size:20.5px;color:#000;font-weight:normal;letter-spacing:0.47px;-webkit-text-stroke:0.25px #000;">Размер защиты: <b>1200х400х50</b></div><div class="t" style="left:774.0px;top:1065.64px;font-size:20.5px;color:#000;font-weight:normal;letter-spacing:0.47px;-webkit-text-stroke:0.25px #000;">Момент затяжки: М6 - 6,1 Н*м</div><div class="t" style="left:774.0px;top:1092.04px;font-size:20.5px;color:#000;font-weight:normal;letter-spacing:0.47px;-webkit-text-stroke:0.25px #000;">Момент затяжки: М8 - 15,7 Н*м</div><div class="t" style="left:972.0px;top:1134.14px;font-size:10.7px;color:#000;font-weight:normal;letter-spacing:0px;">Конструкторский отдел в праве изменять внешний вид, набор комплектующих, способ установки без уведомления потребителя.</div><div class="t" style="left:827.5px;top:437.57px;font-size:22px;color:#000;font-weight:normal;letter-spacing:0px;transform:scale(1.0,1.0) skewX(-12deg);transform-origin:0 18.63px;-webkit-text-stroke:0.55px #000;">Болт</div><div class="t" style="left:821.0px;top:462.77px;font-size:22px;color:#000;font-weight:normal;letter-spacing:0px;transform:scale(1.0,1.0) skewX(-12deg);transform-origin:0 18.63px;-webkit-text-stroke:0.55px #000;">М8х20</div><div class="t" style="left:982.8px;top:760.07px;font-size:22px;color:#000;font-weight:normal;letter-spacing:0px;transform:scale(1.0,1.0) skewX(-12deg);transform-origin:0 18.63px;-webkit-text-stroke:0.55px #000;">Болт</div><div class="t" style="left:976.3px;top:786.07px;font-size:22px;color:#000;font-weight:normal;letter-spacing:0px;transform:scale(1.0,1.0) skewX(-12deg);transform-origin:0 18.63px;-webkit-text-stroke:0.55px #000;">М8х25</div><div class="t" style="left:1132.6px;top:920.17px;font-size:22px;color:#000;font-weight:normal;letter-spacing:0px;transform:scale(1.0,1.0) skewX(-12deg);transform-origin:0 18.63px;-webkit-text-stroke:0.55px #000;">Болт</div><div class="t" style="left:1126.0px;top:946.17px;font-size:22px;color:#000;font-weight:normal;letter-spacing:0px;transform:scale(1.0,1.0) skewX(-12deg);transform-origin:0 18.63px;-webkit-text-stroke:0.55px #000;">М8х25</div><div class="t" style="left:870.5px;top:584.97px;font-size:22px;color:#000;font-weight:normal;letter-spacing:0px;transform:scale(1.0,1.0) skewX(-12deg);transform-origin:0 18.63px;-webkit-text-stroke:0.55px #000;">М6</div><div class="t" style="left:1337.5px;top:978.37px;font-size:22px;color:#000;font-weight:normal;letter-spacing:0px;transform:scale(1.0,1.0) skewX(-12deg);transform-origin:0 18.63px;-webkit-text-stroke:0.55px #000;">М6</div><div class="t" style="left:1471.0px;top:968.37px;font-size:22px;color:#000;font-weight:normal;letter-spacing:0px;transform:scale(1.0,1.0) skewX(-12deg);transform-origin:0 18.63px;-webkit-text-stroke:0.55px #000;">М6</div>
</body></html>
